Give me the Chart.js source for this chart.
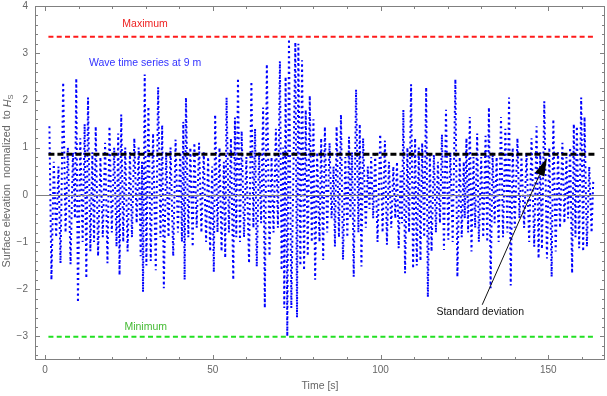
<!DOCTYPE html>
<html>
<head>
<meta charset="utf-8">
<script src="https://cdn.jsdelivr.net/npm/chart.js@4.4.1/dist/chart.umd.min.js"></script>
<style>
  html, body { margin: 0; padding: 0; background: #ffffff; }
  canvas { display: block; }
</style>
</head>
<body>
<canvas id="wave-chart" width="607" height="396"></canvas>
<script>
// wave record: successive crests / troughs
const waveTime = [
  1.3, 1.9, 2.6, 3.3, 4.0, 4.6, 5.4, 6.1, 6.8, 7.6,
  8.3, 8.9, 9.3, 9.8, 10.5, 11.2, 11.8, 12.3, 12.8, 13.5,
  14.1, 14.6, 15.1, 15.8, 16.5, 17.2, 17.9, 18.6, 19.2, 19.9,
  20.6, 21.3, 21.8, 22.2, 22.7, 23.3, 23.9, 24.6, 25.3, 25.9,
  26.6, 27.3, 27.9, 28.5, 28.9, 29.2, 29.7, 30.2, 30.8, 31.5,
  32.2, 33.0, 33.7, 34.4, 34.9, 35.4, 36.1, 36.8, 37.4, 38.2,
  38.9, 39.6, 40.3, 40.8, 41.2, 41.6, 42.0, 42.7, 43.3, 44.0,
  44.5, 45.2, 45.9, 46.6, 47.3, 48.0, 48.6, 49.2, 49.8, 50.3,
  50.7, 51.4, 52.0, 52.6, 53.3, 53.7, 54.1, 54.8, 55.4, 56.1,
  56.6, 57.0, 57.5, 58.1, 58.6, 59.3, 60.0, 60.8, 61.5, 62.1,
  62.6, 63.1, 63.8, 64.4, 65.0, 65.5, 66.1, 66.9, 67.5, 68.1,
  68.8, 69.4, 70.0, 70.5, 71.0, 71.3, 71.7, 72.2, 72.7, 73.4,
  74.6, 75.1, 75.5, 76.1, 76.6, 77.2, 77.7, 78.3, 78.9, 79.5,
  80.0, 80.5, 81.1, 81.8, 82.3, 82.9, 83.4, 84.1, 84.8, 85.4,
  86.0, 86.4, 86.9, 87.6, 88.2, 88.8, 89.5, 90.1, 90.6, 91.0,
  91.5, 92.0, 92.7, 93.4, 93.8, 94.3, 94.8, 95.6, 96.2, 96.7,
  97.2, 97.8, 98.4, 99.1, 99.9, 100.6, 101.3, 101.9, 102.5, 103.2,
  103.8, 104.4, 104.9, 105.4, 106.0, 106.4, 106.8, 107.3, 108.0, 108.5,
  109.1, 109.7, 110.3, 110.8, 111.4, 111.9, 112.4, 113.0, 113.6, 114.1,
  114.7, 115.2, 115.9, 116.5, 117.1, 117.7, 118.3, 118.9, 119.5, 120.2,
  120.8, 121.5, 122.3, 122.9, 123.6, 124.2, 124.8, 125.1, 125.6, 126.1,
  126.6, 127.1, 127.7, 128.2, 128.8, 129.3, 130.0, 130.6, 131.3, 131.8,
  132.3, 132.8, 133.4, 134.0, 134.6, 135.2, 135.9, 136.5, 137.2, 137.8,
  138.3, 138.8, 139.4, 140.0, 140.8, 141.4, 142.0, 142.8, 143.5, 144.3,
  145.0, 145.8, 146.5, 147.1, 147.6, 148.1, 148.8, 149.6, 150.3, 151.0,
  151.5, 152.2, 152.9, 153.5, 154.2, 154.8, 155.4, 155.9, 156.5, 157.1,
  157.6, 158.1, 158.5, 159.2, 159.8, 160.4, 160.8, 161.5, 162.2, 162.9,
  163.4
];
const waveElev = [
  1.45, -1.8, 0.7, -0.9, 0.6, -1.45, 2.38, -0.8, 1.0, -1.47,
  0.9, -0.5, 2.47, -2.28, 1.2, -1.0, 1.5, -1.77, 2.06, -1.2,
  0.9, -1.0, 1.45, -1.3, 0.8, -0.9, 1.1, -1.45, 1.45, -0.8,
  1.0, -1.1, 1.3, -1.7, 1.7, -1.0, 1.0, -1.2, 0.9, -0.9,
  1.2, -0.6, 1.0, -1.3, 0.7, -2.06, 2.55, -1.5, 1.87, -1.4,
  1.3, -1.6, 2.28, -0.9, 1.48, -1.98, 0.9, -0.9, 1.0, -1.3,
  1.17, -0.8, 0.9, -1.0, 1.55, -1.8, 2.06, -0.9, 1.0, -1.1,
  1.1, -0.7, 1.1, -0.8, 0.9, -1.0, 0.8, -1.2, 0.6, -1.64,
  1.7, -0.8, 1.0, -1.2, 0.7, -1.34, 2.06, -0.8, 1.2, -1.8,
  1.64, -0.9, 2.47, -1.0, 1.35, -0.9, 0.8, -1.45, 2.4, -0.7,
  1.4, -1.52, 0.9, -0.6, 1.85, -2.4, 2.77, -1.3, 0.8, -0.8,
  1.4, -0.7, 2.83, -1.6, 1.0, -2.4, 2.5, -3.0, 3.3, -2.4,
  3.23, -2.6, 3.2, -1.5, 2.85, -1.6, 1.8, -1.3, 2.1, -1.0,
  1.6, -1.8, 0.9, -1.0, 1.2, -1.38, 1.44, -0.8, 1.1, -0.5,
  0.6, -1.1, 1.45, -0.9, 1.7, -1.38, 0.8, -0.9, 1.23, -0.5,
  0.9, -1.74, 2.23, -0.8, 1.5, -1.52, 1.2, -0.7, 0.6, -0.3,
  0.8, -0.5, 0.85, -1.0, 1.28, -0.8, 1.15, -1.06, 0.7, -0.7,
  0.6, -0.5, 0.7, -1.13, 0.5, -0.6, 1.8, -1.66, 1.0, -0.8,
  2.34, -1.56, 1.2, -1.5, 1.0, -1.4, 1.1, -0.9, 2.28, -2.17,
  0.9, -1.2, 0.85, -0.8, 0.7, -0.6, 1.28, -1.17, 1.8, -0.95,
  0.9, -1.0, 2.45, -1.74, 0.8, -0.9, 0.7, -0.5, 1.2, -0.8,
  1.65, -1.2, 0.8, -0.7, 1.3, -1.0, 0.8, -0.9, 1.25, -1.0,
  1.85, -1.98, 0.9, -0.6, 0.8, -1.0, 1.65, -0.9, 1.4, -0.8,
  2.06, -1.92, 1.0, -0.7, 1.2, -0.5, 0.8, -0.7, 0.9, -1.0,
  1.2, -1.1, 1.45, -1.35, 0.9, -1.15, 1.98, -1.35, 1.0, -1.74,
  1.6, -1.2, 0.9, -0.7, 1.1, -0.6, 0.8, -0.5, 1.0, -1.66,
  1.5, -0.9, 1.45, -1.13, 2.06, -1.2, 1.65, -1.1, 0.6, -0.8,
  0.3
];

const maxLevel = 3.35;
const minLevel = -3.01;
const stdLevel = 0.86;
const levelSpan = [1.0, 163.9];

const xTickValues = [0, 50, 100, 150];
const yTickValues = [-3, -2, -1, 0, 1, 2, 3, 4];

const GREY = '#808080';
const LABEL_GREY = '#666666';
const FONT = "'Liberation Sans', Arial, sans-serif";

function levelLine(level) {
  return levelSpan.map(t => ({ x: t, y: level }));
}

// frame, inward ticks, zero axis, annotations
const framePlugin = {
  id: 'mmaFrame',
  afterDatasetsDraw(chart) {
    const { ctx, chartArea } = chart;
    const { left, right, top, bottom } = chartArea;
    const xs = chart.scales.x;
    const ys = chart.scales.y;
    ctx.save();
    ctx.strokeStyle = GREY;
    ctx.lineWidth = 1;
    // zero axis
    const y0 = Math.round(ys.getPixelForValue(0)) + 0.5;
    ctx.beginPath();
    ctx.moveTo(left, y0);
    ctx.lineTo(right, y0);
    ctx.stroke();
    // frame
    ctx.strokeRect(left + 0.5, top + 0.5, right - left - 1, bottom - top - 1);
    // ticks
    ctx.beginPath();
    for (let v = 0; v <= 160; v += 10) {
      const px = Math.round(xs.getPixelForValue(v)) + 0.5;
      const len = v % 50 === 0 ? 5 : 3;
      ctx.moveTo(px, bottom);
      ctx.lineTo(px, bottom - len);
      ctx.moveTo(px, top);
      ctx.lineTo(px, top + len);
    }
    for (let i = -17; i <= 20; i++) {
      const v = i / 5;
      const py = Math.round(ys.getPixelForValue(v)) + 0.5;
      const len = i % 5 === 0 ? 5 : 3;
      ctx.moveTo(left, py);
      ctx.lineTo(left + len, py);
      ctx.moveTo(right, py);
      ctx.lineTo(right - len, py);
    }
    ctx.stroke();
    ctx.restore();
  },
  afterDraw(chart) {
    const { ctx, chartArea } = chart;
    const xs = chart.scales.x;
    const ys = chart.scales.y;
    ctx.save();
    ctx.textAlign = 'center';
    ctx.textBaseline = 'middle';
    ctx.font = '10.5px ' + FONT;
    const put = (text, xv, yv, color) => {
      ctx.fillStyle = color;
      ctx.fillText(text, xs.getPixelForValue(xv), ys.getPixelForValue(yv));
    };
    put('Maximum', 29.8, 3.62, '#ee2222');
    put('Wave time series at 9 m', 29.8, 2.80, '#3333ff');
    put('Minimum', 30.0, -2.80, '#44bb33');
    put('Standard deviation', 129.7, -2.49, '#111111');

    // arrow to the standard deviation line
    const x1 = xs.getPixelForValue(130.3), y1 = ys.getPixelForValue(-2.33);
    const x2 = xs.getPixelForValue(149.6), y2 = ys.getPixelForValue(0.78);
    const dx = x2 - x1, dy = y2 - y1, len = Math.hypot(dx, dy);
    const ux = dx / len, uy = dy / len;
    const bx = x2 - ux * 18, by = y2 - uy * 18;
    ctx.strokeStyle = '#111111';
    ctx.lineWidth = 1;
    ctx.beginPath();
    ctx.moveTo(x1, y1);
    ctx.lineTo(bx, by);
    ctx.stroke();
    ctx.fillStyle = '#000000';
    ctx.beginPath();
    ctx.moveTo(x2, y2);
    ctx.lineTo(bx - uy * 5, by + ux * 5);
    ctx.lineTo(bx + uy * 5, by - ux * 5);
    ctx.closePath();
    ctx.fill();

    // axis titles
    ctx.fillStyle = LABEL_GREY;
    ctx.font = '10.5px ' + FONT;
    ctx.fillText('Time [s]', (chartArea.left + chartArea.right) / 2, 386);

    ctx.translate(7.5, 181);
    ctx.rotate(-Math.PI / 2);
    ctx.textAlign = 'left';
    const main = 'Surface elevation  normalized  to ';
    ctx.font = '10.8px ' + FONT;
    const wMain = ctx.measureText(main).width;
    ctx.font = 'italic 10.8px ' + FONT;
    const wH = ctx.measureText('H').width;
    ctx.font = '7.5px ' + FONT;
    const wS = ctx.measureText('S').width;
    let x = -(wMain + wH + wS) / 2;
    ctx.font = '10.8px ' + FONT;
    ctx.fillText(main, x, 0);
    x += wMain;
    ctx.font = 'italic 10.8px ' + FONT;
    ctx.fillText('H', x, 0);
    x += wH;
    ctx.font = '7.5px ' + FONT;
    ctx.fillText('S', x, 3);
    ctx.restore();
  }
};

const ctx = document.getElementById('wave-chart').getContext('2d');
new Chart(ctx, {
  type: 'scatter',
  data: {
    datasets: [
      {
        label: 'Standard deviation',
        data: levelLine(stdLevel),
        showLine: true,
        borderColor: '#000000',
        borderWidth: 3,
        borderDash: [6, 3],
        pointRadius: 0,
        order: 1
      },
      {
        label: 'Wave time series at 9 m',
        data: waveTime.map((t, i) => ({ x: t, y: waveElev[i] })),
        showLine: true,
        borderColor: '#0000ff',
        borderWidth: 2,
        borderDash: [2, 3.2],
        borderCapStyle: 'butt',
        pointRadius: 0,
        tension: 0,
        order: 2
      },
      {
        label: 'Maximum',
        data: levelLine(maxLevel),
        showLine: true,
        borderColor: '#ff1a1a',
        borderWidth: 2,
        borderDash: [5, 3.3],
        pointRadius: 0,
        order: 3
      },
      {
        label: 'Minimum',
        data: levelLine(minLevel),
        showLine: true,
        borderColor: '#22e022',
        borderWidth: 2,
        borderDash: [5, 3.3],
        pointRadius: 0,
        order: 3
      }
    ]
  },
  options: {
    responsive: false,
    animation: false,
    events: [],
    layout: { padding: { top: 6, right: 2, left: 0, bottom: 0 } },
    plugins: {
      legend: { display: false },
      tooltip: { enabled: false }
    },
    scales: {
      x: {
        type: 'linear',
        min: -3,
        max: 166.9,
        grid: { display: false, drawTicks: false },
        border: { display: false },
        afterBuildTicks: axis => { axis.ticks = xTickValues.map(v => ({ value: v })); },
        afterFit: axis => {
          axis.height = 36;
          axis.paddingLeft = 0;
          axis.paddingRight = 0;
        },
        ticks: {
          color: LABEL_GREY,
          font: { family: FONT, size: 10 },
          padding: 4,
          maxRotation: 0,
          callback: v => String(v)
        }
      },
      y: {
        type: 'linear',
        min: -3.5,
        max: 4,
        grid: { display: false, drawTicks: false },
        border: { display: false },
        afterBuildTicks: axis => { axis.ticks = yTickValues.map(v => ({ value: v })); },
        afterFit: axis => {
          axis.width = 35;
          axis.paddingTop = 0;
          axis.paddingBottom = 0;
        },
        ticks: {
          color: LABEL_GREY,
          font: { family: FONT, size: 10 },
          padding: 7,
          callback: v => (v < 0 ? '\u2212' + Math.abs(v) : String(v))
        }
      }
    }
  },
  plugins: [framePlugin]
});
</script>
</body>
</html>
